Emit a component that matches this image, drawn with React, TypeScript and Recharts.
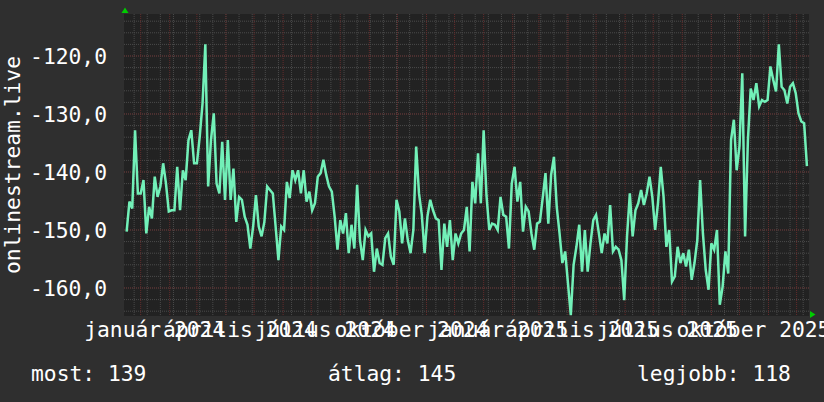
import React from "react";
import { LineChart, Line, XAxis, YAxis, CartesianGrid } from "recharts";

// ---- data ----
const SERIES_NAME = "onlinestream.live";
// one value every 3 days, first sample on 2023-12-17
const FIRST_SAMPLE_DAY = -15; // days relative to 2024-01-01
const SAMPLE_STEP_DAYS = 3;
const values: number[] = [
  -150.3, -145.1, -146.3, -132.8, -143.7, -143.7, -141.4, -150.6, -146.0, -148.0,
  -140.8, -144.3, -142.5, -138.5, -142.0, -146.8, -146.6, -146.6, -139.1, -146.6,
  -139.7, -141.4, -134.5, -132.8, -138.5, -138.5, -133.9, -128.2, -118.0, -142.5,
  -134.5, -129.9, -142.0, -143.7, -134.8, -144.8, -134.5, -144.8, -139.4, -148.6,
  -144.3, -144.8, -147.7, -149.1, -153.2, -149.4, -144.0, -149.4, -151.1, -148.6,
  -142.5, -143.1, -143.7, -149.4, -155.2, -149.4, -150.0, -141.7, -144.5, -139.7,
  -141.4, -139.7, -143.7, -139.7, -145.1, -143.4, -146.6, -145.4, -140.8, -140.2,
  -137.9, -140.5, -142.5, -143.4, -147.7, -153.4, -148.3, -150.6, -147.1, -154.0,
  -149.1, -153.2, -142.2, -151.7, -155.2, -150.0, -151.1, -150.6, -157.2, -153.2,
  -155.7, -156.0, -151.4, -150.6, -154.6, -156.0, -144.8, -146.8, -152.3, -148.0,
  -151.7, -154.0, -150.0, -135.6, -143.7, -147.4, -154.0, -147.7, -144.8, -146.6,
  -148.0, -148.3, -156.9, -148.9, -152.9, -148.3, -155.2, -150.6, -152.3, -150.6,
  -150.0, -146.0, -153.7, -141.7, -145.4, -136.8, -145.4, -132.8, -144.0, -150.0,
  -148.9, -149.1, -150.0, -144.3, -147.4, -147.7, -153.2, -142.0, -139.1, -145.1,
  -141.7, -150.3, -146.0, -146.8, -150.6, -153.4, -148.9, -148.6, -144.5, -140.2,
  -148.9, -140.5, -137.4, -146.0, -150.6, -155.7, -153.7, -159.2, -164.7, -156.0,
  -152.9, -149.1, -157.2, -150.0, -157.2, -152.3, -148.3, -147.4, -150.6, -154.0,
  -150.6, -152.3, -145.7, -153.7, -152.9, -153.4, -155.2, -162.1, -151.1, -143.7,
  -151.1, -146.6, -145.4, -143.1, -145.7, -143.7, -140.8, -144.3, -150.0, -145.4,
  -139.1, -144.3, -152.9, -150.0, -158.9, -158.0, -152.9, -155.7, -154.0, -156.3,
  -153.4, -158.6, -155.7, -151.7, -141.4, -150.6, -156.9, -160.3, -152.3, -153.4,
  -150.0, -162.9, -159.8, -153.7, -157.5, -134.5, -131.0, -139.7, -135.6, -123.0,
  -151.1, -134.5, -125.6, -127.6, -124.7, -128.7, -127.6, -127.9, -127.6, -121.8,
  -124.1, -126.1, -118.0, -125.3, -125.9, -128.2, -125.3, -124.7, -126.4, -129.9,
  -131.3, -131.6, -139.0,
];

const Y_TICKS = [-160, -150, -140, -130, -120];
const Y_MINOR_STEP = 2;
const MONTH_NAMES = ["január", "április", "július", "október"];
const LABEL_YEARS = [2024, 2025];
const LABEL_MONTHS = [0, 3, 6, 9];
const LEGEND_TEXTS = ["most: 139", "átlag: 145", "legjobb: 118"];

// ---- helpers ----
const DAY_MS = 86400000;
const EPOCH = Date.UTC(2024, 0, 1);
const dayOf = (y: number, m: number, d: number) => (Date.UTC(y, m, d) - EPOCH) / DAY_MS;

const X_DOMAIN: [number, number] = [-17.8, 713.2];
const Y_DOMAIN: [number, number] = [-164.83, -112.76];

const data = values.map((v, i) => ({ day: FIRST_SAMPLE_DAY + SAMPLE_STEP_DAYS * i, v }));

const monthStarts: number[] = [];
for (const y of [2024, 2025]) for (let m = 0; m < 12; m++) monthStarts.push(dayOf(y, m, 1));
const minorDays: number[] = [];
for (let d = dayOf(2023, 11, 25); d < X_DOMAIN[1]; d += 14) minorDays.push(d);

const labelDays: number[] = [];
const labelTexts: string[] = [];
for (const y of LABEL_YEARS)
  LABEL_MONTHS.forEach((m, k) => {
    labelDays.push(dayOf(y, m, 1) + 15);
    labelTexts.push(`${MONTH_NAMES[k]} ${y}`);
  });

const minorY: number[] = [];
for (let v = -164; v <= -114; v += Y_MINOR_STEP) minorY.push(v);

const FONT = "'DejaVu Sans Mono', monospace";
const FS = 21.3;
const BG = "#2f2f2f";
const CANVAS = "#222222";
const MINOR = "#4a4a4a";
const MAJOR = "#642c2c";
const LINE = "#72f0b8";

export default function App() {
  return (
    <div style={{ position: "absolute", left: 0, top: 0, width: 824, height: 402, background: BG }}>
      <LineChart width={824} height={402} data={data} margin={{ top: 14, right: 15, bottom: 0, left: 0 }}>
        <CartesianGrid
          fill={CANVAS}
          stroke={MINOR}
          strokeDasharray="1 1"
          verticalValues={minorDays}
          horizontalValues={minorY}
        />
        <CartesianGrid
          stroke={MAJOR}
          strokeDasharray="1 1"
          verticalValues={monthStarts}
          horizontalValues={Y_TICKS}
        />
        <XAxis
          type="number"
          dataKey="day"
          domain={X_DOMAIN}
          allowDataOverflow
          ticks={labelDays}
          interval={0}
          height={86}
          axisLine={false}
          tickLine={false}
          tickSize={2}
          tickMargin={4}
          tickFormatter={(v: number) => labelTexts[labelDays.indexOf(v)] ?? ""}
          tick={{ fill: "#ffffff", fontSize: FS, fontFamily: FONT }}
        />
        <YAxis
          type="number"
          domain={Y_DOMAIN}
          allowDataOverflow
          ticks={Y_TICKS}
          interval={0}
          width={124}
          axisLine={false}
          tickLine={false}
          tickSize={2}
          tickMargin={15}
          tickFormatter={(v: number) => v.toFixed(1).replace(".", ",")}
          tick={{ fill: "#ffffff", fontSize: FS, fontFamily: FONT }}
        />
        <Line
          type="linear"
          dataKey="v"
          stroke={LINE}
          strokeWidth={2.5}
          dot={false}
          activeDot={false}
          isAnimationActive={false}
        />
      </LineChart>
      <svg
        width={824}
        height={402}
        style={{ position: "absolute", left: 0, top: 0, pointerEvents: "none" }}
      >
        <text
          x={20}
          y={165}
          transform="rotate(-90 20 165)"
          textAnchor="middle"
          fill="#ffffff"
          fontSize={FS}
          fontFamily={FONT}
        >
          {SERIES_NAME}
        </text>
        <polygon points="121.5,13 128.5,13 125,7.5" fill="#00cc00" />
        <polygon points="810,311 810,318 815.5,314.5" fill="#00cc00" />
        {LEGEND_TEXTS.map((t, i) => (
          <text key={t} x={[31, 328, 637][i]} y={381} fill="#ffffff" fontSize={FS} fontFamily={FONT}>
            {t}
          </text>
        ))}
      </svg>
    </div>
  );
}
